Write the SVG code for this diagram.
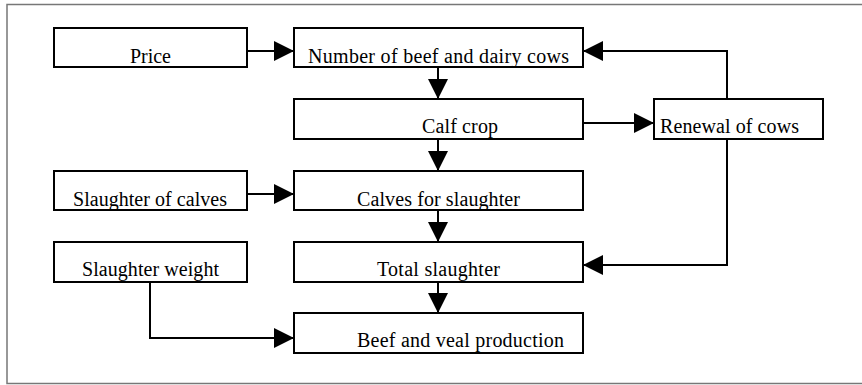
<svg xmlns="http://www.w3.org/2000/svg" width="862" height="385" viewBox="0 0 862 385">
  <style>
    .box { fill: #fff; stroke: #000; stroke-width: 2; }
    .lbl { font-family: "Liberation Serif", "Times New Roman", serif; font-size: 20px; fill: #000; }
    .wire { fill: none; stroke: #000; stroke-width: 2; }
  </style>
  <defs>
    <marker id="head" viewBox="0 0 20 20" refX="20" refY="10" markerWidth="20" markerHeight="20" markerUnits="userSpaceOnUse" orient="auto">
      <path d="M0,0 L20,10 L0,20 Z" fill="#000"/>
    </marker>
  </defs>

  <!-- outer frame, running off the right edge -->
  <rect x="7" y="4.5" width="880" height="379" fill="#fff" stroke="#777" stroke-width="1.5"/>

  <g id="connectors">
    <path class="wire" d="M247,51 H294" marker-end="url(#head)"/>
    <path class="wire" d="M438,67 V99" marker-end="url(#head)"/>
    <path class="wire" d="M583,123 H654" marker-end="url(#head)"/>
    <path class="wire" d="M727,99 V51 H583" marker-end="url(#head)"/>
    <path class="wire" d="M438,139 V171" marker-end="url(#head)"/>
    <path class="wire" d="M247,194 H294" marker-end="url(#head)"/>
    <path class="wire" d="M727,139 V265 H583" marker-end="url(#head)"/>
    <path class="wire" d="M438,210 V242" marker-end="url(#head)"/>
    <path class="wire" d="M438,282 V313" marker-end="url(#head)"/>
    <path class="wire" d="M150,282 V338 H294" marker-end="url(#head)"/>
  </g>

  <g id="price">
    <rect class="box" x="54" y="28" width="193" height="39"/>
    <text class="lbl" x="130" y="63" textLength="41" lengthAdjust="spacing">Price</text>
  </g>
  <g id="cows">
    <rect class="box" x="294" y="28" width="289" height="39"/>
    <text class="lbl" x="308" y="63" textLength="261" lengthAdjust="spacing">Number of beef and dairy cows</text>
  </g>
  <g id="calf-crop">
    <rect class="box" x="294" y="99" width="289" height="40"/>
    <text class="lbl" x="422" y="133" textLength="76" lengthAdjust="spacing">Calf crop</text>
  </g>
  <g id="renewal">
    <rect class="box" x="654" y="99" width="169" height="40"/>
    <text class="lbl" x="660" y="133" textLength="139" lengthAdjust="spacing">Renewal of cows</text>
  </g>
  <g id="slaughter-calves">
    <rect class="box" x="54" y="171" width="193" height="39"/>
    <text class="lbl" x="73" y="206" textLength="154" lengthAdjust="spacing">Slaughter of calves</text>
  </g>
  <g id="calves-for-slaughter">
    <rect class="box" x="294" y="171" width="289" height="39"/>
    <text class="lbl" x="357" y="206" textLength="163" lengthAdjust="spacing">Calves for slaughter</text>
  </g>
  <g id="slaughter-weight">
    <rect class="box" x="54" y="242" width="193" height="40"/>
    <text class="lbl" x="82" y="276" textLength="137" lengthAdjust="spacing">Slaughter weight</text>
  </g>
  <g id="total-slaughter">
    <rect class="box" x="294" y="242" width="289" height="40"/>
    <text class="lbl" x="377" y="276" textLength="123" lengthAdjust="spacing">Total slaughter</text>
  </g>
  <g id="production">
    <rect class="box" x="294" y="313" width="289" height="40"/>
    <text class="lbl" x="357" y="347" textLength="207" lengthAdjust="spacing">Beef and veal production</text>
  </g>
</svg>
